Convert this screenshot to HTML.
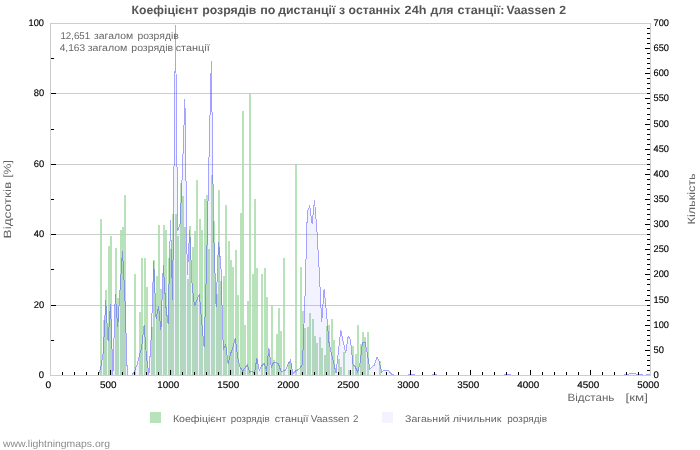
<!DOCTYPE html>
<html><head><meta charset="utf-8"><title>chart</title>
<style>html,body{margin:0;padding:0;background:#fff}svg{display:block;will-change:transform}text{text-rendering:geometricPrecision;font-family:"Liberation Sans",sans-serif}</style></head><body>
<svg width="700" height="450" viewBox="0 0 700 450">
<rect x="0" y="0" width="700" height="450" fill="#fff"/>
<g shape-rendering="crispEdges">
<rect x="51" y="305" width="599" height="1" fill="#cdcdcd"/>
<rect x="51" y="234" width="599" height="1" fill="#cdcdcd"/>
<rect x="51" y="164" width="599" height="1" fill="#cdcdcd"/>
<rect x="51" y="93" width="599" height="1" fill="#cdcdcd"/>
</g>
<g shape-rendering="crispEdges" fill="rgba(166,219,169,0.8)">
<rect x="100" y="219" width="2" height="156"/>
<rect x="103" y="320" width="2" height="55"/>
<rect x="105" y="290" width="2" height="85"/>
<rect x="108" y="246" width="2" height="129"/>
<rect x="110" y="236" width="2" height="139"/>
<rect x="115" y="248" width="2" height="127"/>
<rect x="117" y="298" width="2" height="77"/>
<rect x="120" y="230" width="2" height="145"/>
<rect x="122" y="227" width="2" height="148"/>
<rect x="124" y="195" width="2" height="180"/>
<rect x="134" y="274" width="2" height="101"/>
<rect x="139" y="312" width="2" height="63"/>
<rect x="141" y="258" width="2" height="117"/>
<rect x="144" y="258" width="2" height="117"/>
<rect x="146" y="287" width="2" height="88"/>
<rect x="151" y="327" width="2" height="48"/>
<rect x="153" y="260" width="2" height="115"/>
<rect x="156" y="276" width="2" height="99"/>
<rect x="158" y="225" width="2" height="150"/>
<rect x="160" y="289" width="2" height="86"/>
<rect x="163" y="225" width="2" height="150"/>
<rect x="165" y="230" width="2" height="145"/>
<rect x="168" y="258" width="2" height="117"/>
<rect x="170" y="249" width="2" height="126"/>
<rect x="172" y="214" width="2" height="161"/>
<rect x="175" y="214" width="2" height="161"/>
<rect x="177" y="236" width="2" height="139"/>
<rect x="180" y="183" width="2" height="192"/>
<rect x="182" y="196" width="2" height="179"/>
<rect x="184" y="227" width="2" height="148"/>
<rect x="187" y="279" width="2" height="96"/>
<rect x="189" y="226" width="2" height="149"/>
<rect x="192" y="247" width="2" height="128"/>
<rect x="194" y="231" width="2" height="144"/>
<rect x="196" y="180" width="2" height="195"/>
<rect x="199" y="219" width="2" height="156"/>
<rect x="201" y="230" width="2" height="145"/>
<rect x="204" y="199" width="2" height="176"/>
<rect x="206" y="195" width="2" height="180"/>
<rect x="208" y="249" width="2" height="126"/>
<rect x="211" y="175" width="2" height="200"/>
<rect x="213" y="221" width="2" height="154"/>
<rect x="216" y="294" width="2" height="81"/>
<rect x="218" y="190" width="2" height="185"/>
<rect x="220" y="281" width="2" height="94"/>
<rect x="223" y="276" width="2" height="99"/>
<rect x="225" y="205" width="2" height="170"/>
<rect x="228" y="241" width="2" height="134"/>
<rect x="230" y="260" width="2" height="115"/>
<rect x="232" y="267" width="2" height="108"/>
<rect x="235" y="250" width="2" height="125"/>
<rect x="237" y="295" width="2" height="80"/>
<rect x="240" y="213" width="2" height="162"/>
<rect x="242" y="111" width="2" height="264"/>
<rect x="244" y="325" width="2" height="50"/>
<rect x="247" y="301" width="2" height="74"/>
<rect x="249" y="93" width="2" height="282"/>
<rect x="252" y="274" width="2" height="101"/>
<rect x="254" y="199" width="2" height="176"/>
<rect x="256" y="268" width="2" height="107"/>
<rect x="261" y="274" width="2" height="101"/>
<rect x="264" y="268" width="2" height="107"/>
<rect x="266" y="297" width="2" height="78"/>
<rect x="268" y="354" width="2" height="21"/>
<rect x="271" y="305" width="2" height="70"/>
<rect x="273" y="360" width="2" height="15"/>
<rect x="276" y="334" width="2" height="41"/>
<rect x="278" y="308" width="2" height="67"/>
<rect x="280" y="331" width="2" height="44"/>
<rect x="283" y="258" width="2" height="117"/>
<rect x="288" y="362" width="2" height="13"/>
<rect x="290" y="363" width="2" height="12"/>
<rect x="295" y="164" width="2" height="211"/>
<rect x="300" y="267" width="2" height="108"/>
<rect x="302" y="311" width="2" height="64"/>
<rect x="304" y="328" width="2" height="47"/>
<rect x="307" y="327" width="2" height="48"/>
<rect x="309" y="313" width="2" height="62"/>
<rect x="312" y="319" width="2" height="56"/>
<rect x="314" y="336" width="2" height="39"/>
<rect x="316" y="343" width="2" height="32"/>
<rect x="319" y="337" width="2" height="38"/>
<rect x="321" y="348" width="2" height="27"/>
<rect x="324" y="355" width="2" height="20"/>
<rect x="326" y="326" width="2" height="49"/>
<rect x="328" y="325" width="2" height="50"/>
<rect x="331" y="319" width="2" height="56"/>
<rect x="333" y="340" width="2" height="35"/>
<rect x="338" y="359" width="2" height="16"/>
<rect x="340" y="367" width="2" height="8"/>
<rect x="343" y="352" width="2" height="23"/>
<rect x="348" y="370" width="2" height="5"/>
<rect x="352" y="346" width="2" height="29"/>
<rect x="355" y="354" width="2" height="21"/>
<rect x="357" y="325" width="2" height="50"/>
<rect x="360" y="344" width="2" height="31"/>
<rect x="362" y="332" width="2" height="43"/>
<rect x="364" y="337" width="2" height="38"/>
<rect x="367" y="332" width="2" height="43"/>
<rect x="379" y="361" width="2" height="14"/>
</g>
<text x="60.4" y="39" font-size="9.8" fill="#666" text-anchor="start" font-weight="normal" textLength="29.7" lengthAdjust="spacingAndGlyphs">12,651</text>
<text x="94.0" y="39" font-size="9.8" fill="#666" text-anchor="start" font-weight="normal" textLength="39.1" lengthAdjust="spacingAndGlyphs">загалом</text>
<text x="137.4" y="39" font-size="9.8" fill="#666" text-anchor="start" font-weight="normal" textLength="41.4" lengthAdjust="spacingAndGlyphs">розрядів</text>
<text x="59.7" y="51" font-size="9.8" fill="#666" text-anchor="start" font-weight="normal" textLength="25.4" lengthAdjust="spacingAndGlyphs">4,163</text>
<text x="87.7" y="51" font-size="9.8" fill="#666" text-anchor="start" font-weight="normal" textLength="39.7" lengthAdjust="spacingAndGlyphs">загалом</text>
<text x="131.3" y="51" font-size="9.8" fill="#666" text-anchor="start" font-weight="normal" textLength="41.8" lengthAdjust="spacingAndGlyphs">розрядів</text>
<text x="175.7" y="51" font-size="9.8" fill="#666" text-anchor="start" font-weight="normal" textLength="34.0" lengthAdjust="spacingAndGlyphs">станції</text>
<path d="M98.5,375.0 L100.9,367.0 L103.3,352.0 L105.7,300.0 L108.1,341.0 L110.5,304.0 L112.9,375.0 L115.3,294.0 L117.7,327.0 L120.1,289.0 L122.5,251.0 L124.9,297.0 L127.3,375.0 L127.3,375 L98.5,375 Z" fill="rgba(100,100,255,0.075)" stroke="none"/>
<path d="M132.1,375.0 L134.5,371.0 L136.9,365.0 L139.3,356.0 L141.7,347.0 L144.1,325.0 L146.5,357.0 L148.9,375.0 L151.3,335.0 L153.7,261.0 L156.1,319.0 L158.5,306.0 L160.9,330.0 L163.3,265.0 L165.7,305.0 L168.1,324.0 L170.5,220.0 L172.6,300.0 L175.5,25.0 L177.7,231.0 L180.1,224.0 L182.5,169.0 L184.9,99.0 L187.3,275.0 L189.7,230.0 L192.1,285.0 L194.5,306.0 L196.9,300.0 L199.3,294.0 L201.7,322.0 L204.1,347.0 L206.5,268.0 L208.9,162.0 L211.3,61.0 L213.7,233.0 L216.1,307.0 L218.5,242.0 L220.9,265.0 L223.3,350.0 L225.7,344.0 L228.1,364.0 L230.5,354.0 L232.9,347.0 L235.3,338.0 L237.7,358.0 L240.1,367.0 L242.5,371.0 L244.9,368.0 L247.3,365.0 L249.7,372.0 L252.1,371.0 L254.5,373.0 L256.9,358.0 L259.3,370.0 L261.7,366.0 L264.1,363.0 L266.5,371.0 L268.9,348.0 L271.3,367.0 L273.7,362.0 L276.1,362.0 L278.5,364.0 L280.9,371.0 L283.3,371.0 L285.7,370.0 L288.1,364.0 L290.5,360.0 L292.9,374.0 L295.3,371.0 L297.7,370.0 L300.1,368.0 L302.5,364.0 L304.9,300.0 L307.3,212.0 L309.7,206.0 L312.1,224.0 L314.5,200.0 L316.9,230.0 L319.3,272.0 L321.7,322.0 L324.1,289.0 L326.5,313.0 L328.9,342.0 L331.3,353.0 L333.7,363.0 L336.1,373.0 L338.5,350.0 L340.9,330.0 L343.3,342.0 L345.7,353.0 L348.1,336.0 L350.5,340.0 L352.9,364.0 L355.3,367.0 L357.7,372.0 L360.1,363.0 L362.5,342.0 L364.9,342.0 L367.3,353.0 L369.7,369.0 L372.1,367.0 L374.5,365.0 L376.9,357.0 L379.3,362.0 L381.7,372.0 L384.1,370.0 L386.5,370.0 L388.9,371.0 L391.3,374.0 L393.7,375.0 L393.7,375 L132.1,375 Z" fill="rgba(100,100,255,0.075)" stroke="none"/>
<path d="M408.1,375.0 L410.5,374.5 L412.9,374.0 L415.3,375.0 L415.3,375 L408.1,375 Z" fill="rgba(100,100,255,0.075)" stroke="none"/>
<path d="M432.1,375.0 L434.5,374.0 L436.9,375.0 L436.9,375 L432.1,375 Z" fill="rgba(100,100,255,0.075)" stroke="none"/>
<path d="M504.1,375.0 L506.5,374.5 L508.9,374.0 L511.3,375.0 L511.3,375 L504.1,375 Z" fill="rgba(100,100,255,0.075)" stroke="none"/>
<path d="M624.1,375.0 L626.5,374.5 L628.9,374.0 L631.3,373.5 L633.7,373.0 L636.1,374.0 L638.5,375.0 L640.9,374.0 L643.3,375.0 L645.7,375.0 L648.1,374.5 L650.5,374.5 L650.5,375 L624.1,375 Z" fill="rgba(100,100,255,0.075)" stroke="none"/>
<path d="M98.5,375.0 L100.9,367.0 L103.3,352.0 L105.7,300.0 L108.1,341.0 L110.5,304.0 L112.9,375.0 L115.3,294.0 L117.7,327.0 L120.1,289.0 L122.5,251.0 L124.9,297.0 L127.3,375.0" fill="none" stroke="rgba(80,80,255,0.5)" stroke-width="1" stroke-linejoin="miter" shape-rendering="crispEdges"/>
<path d="M132.1,375.0 L134.5,371.0 L136.9,365.0 L139.3,356.0 L141.7,347.0 L144.1,325.0 L146.5,357.0 L148.9,375.0 L151.3,335.0 L153.7,261.0 L156.1,319.0 L158.5,306.0 L160.9,330.0 L163.3,265.0 L165.7,305.0 L168.1,324.0 L170.5,220.0 L172.6,300.0 L175.5,25.0 L177.7,231.0 L180.1,224.0 L182.5,169.0 L184.9,99.0 L187.3,275.0 L189.7,230.0 L192.1,285.0 L194.5,306.0 L196.9,300.0 L199.3,294.0 L201.7,322.0 L204.1,347.0 L206.5,268.0 L208.9,162.0 L211.3,61.0 L213.7,233.0 L216.1,307.0 L218.5,242.0 L220.9,265.0 L223.3,350.0 L225.7,344.0 L228.1,364.0 L230.5,354.0 L232.9,347.0 L235.3,338.0 L237.7,358.0 L240.1,367.0 L242.5,371.0 L244.9,368.0 L247.3,365.0 L249.7,372.0 L252.1,371.0 L254.5,373.0 L256.9,358.0 L259.3,370.0 L261.7,366.0 L264.1,363.0 L266.5,371.0 L268.9,348.0 L271.3,367.0 L273.7,362.0 L276.1,362.0 L278.5,364.0 L280.9,371.0 L283.3,371.0 L285.7,370.0 L288.1,364.0 L290.5,360.0 L292.9,374.0 L295.3,371.0 L297.7,370.0 L300.1,368.0 L302.5,364.0 L304.9,300.0 L307.3,212.0 L309.7,206.0 L312.1,224.0 L314.5,200.0 L316.9,230.0 L319.3,272.0 L321.7,322.0 L324.1,289.0 L326.5,313.0 L328.9,342.0 L331.3,353.0 L333.7,363.0 L336.1,373.0 L338.5,350.0 L340.9,330.0 L343.3,342.0 L345.7,353.0 L348.1,336.0 L350.5,340.0 L352.9,364.0 L355.3,367.0 L357.7,372.0 L360.1,363.0 L362.5,342.0 L364.9,342.0 L367.3,353.0 L369.7,369.0 L372.1,367.0 L374.5,365.0 L376.9,357.0 L379.3,362.0 L381.7,372.0 L384.1,370.0 L386.5,370.0 L388.9,371.0 L391.3,374.0 L393.7,375.0" fill="none" stroke="rgba(80,80,255,0.5)" stroke-width="1" stroke-linejoin="miter" shape-rendering="crispEdges"/>
<path d="M408.1,375.0 L410.5,374.5 L412.9,374.0 L415.3,375.0" fill="none" stroke="rgba(80,80,255,0.5)" stroke-width="1" stroke-linejoin="miter" shape-rendering="crispEdges"/>
<path d="M432.1,375.0 L434.5,374.0 L436.9,375.0" fill="none" stroke="rgba(80,80,255,0.5)" stroke-width="1" stroke-linejoin="miter" shape-rendering="crispEdges"/>
<path d="M504.1,375.0 L506.5,374.5 L508.9,374.0 L511.3,375.0" fill="none" stroke="rgba(80,80,255,0.5)" stroke-width="1" stroke-linejoin="miter" shape-rendering="crispEdges"/>
<path d="M624.1,375.0 L626.5,374.5 L628.9,374.0 L631.3,373.5 L633.7,373.0 L636.1,374.0 L638.5,375.0 L640.9,374.0 L643.3,375.0 L645.7,375.0 L648.1,374.5 L650.5,374.5" fill="none" stroke="rgba(80,80,255,0.5)" stroke-width="1" stroke-linejoin="miter" shape-rendering="crispEdges"/>
<g shape-rendering="crispEdges">
<rect x="50" y="23" width="601" height="1" fill="#cdcdcd"/>
<rect x="50" y="375" width="601" height="1" fill="#cdcdcd"/>
<rect x="50" y="23" width="1" height="353" fill="#cdcdcd"/>
<rect x="650" y="23" width="1" height="353" fill="#cdcdcd"/>
<g fill="#000">
<rect x="51" y="340" width="3" height="1"/>
<rect x="51" y="305" width="5" height="1"/>
<rect x="51" y="269" width="3" height="1"/>
<rect x="51" y="234" width="5" height="1"/>
<rect x="51" y="199" width="3" height="1"/>
<rect x="51" y="164" width="5" height="1"/>
<rect x="51" y="129" width="3" height="1"/>
<rect x="51" y="93" width="5" height="1"/>
<rect x="51" y="58" width="3" height="1"/>
<rect x="62" y="372" width="1" height="3"/>
<rect x="74" y="372" width="1" height="3"/>
<rect x="86" y="372" width="1" height="3"/>
<rect x="98" y="372" width="1" height="3"/>
<rect x="110" y="370" width="1" height="5"/>
<rect x="122" y="372" width="1" height="3"/>
<rect x="134" y="372" width="1" height="3"/>
<rect x="146" y="372" width="1" height="3"/>
<rect x="158" y="372" width="1" height="3"/>
<rect x="170" y="370" width="1" height="5"/>
<rect x="182" y="372" width="1" height="3"/>
<rect x="194" y="372" width="1" height="3"/>
<rect x="206" y="372" width="1" height="3"/>
<rect x="218" y="372" width="1" height="3"/>
<rect x="230" y="370" width="1" height="5"/>
<rect x="242" y="372" width="1" height="3"/>
<rect x="254" y="372" width="1" height="3"/>
<rect x="266" y="372" width="1" height="3"/>
<rect x="278" y="372" width="1" height="3"/>
<rect x="290" y="370" width="1" height="5"/>
<rect x="302" y="372" width="1" height="3"/>
<rect x="314" y="372" width="1" height="3"/>
<rect x="326" y="372" width="1" height="3"/>
<rect x="338" y="372" width="1" height="3"/>
<rect x="350" y="370" width="1" height="5"/>
<rect x="362" y="372" width="1" height="3"/>
<rect x="374" y="372" width="1" height="3"/>
<rect x="386" y="372" width="1" height="3"/>
<rect x="398" y="372" width="1" height="3"/>
<rect x="410" y="370" width="1" height="5"/>
<rect x="422" y="372" width="1" height="3"/>
<rect x="434" y="372" width="1" height="3"/>
<rect x="446" y="372" width="1" height="3"/>
<rect x="458" y="372" width="1" height="3"/>
<rect x="470" y="370" width="1" height="5"/>
<rect x="482" y="372" width="1" height="3"/>
<rect x="494" y="372" width="1" height="3"/>
<rect x="506" y="372" width="1" height="3"/>
<rect x="518" y="372" width="1" height="3"/>
<rect x="530" y="370" width="1" height="5"/>
<rect x="542" y="372" width="1" height="3"/>
<rect x="554" y="372" width="1" height="3"/>
<rect x="566" y="372" width="1" height="3"/>
<rect x="578" y="372" width="1" height="3"/>
<rect x="590" y="370" width="1" height="5"/>
<rect x="602" y="372" width="1" height="3"/>
<rect x="614" y="372" width="1" height="3"/>
<rect x="626" y="372" width="1" height="3"/>
<rect x="638" y="372" width="1" height="3"/>
<rect x="647" y="370" width="3" height="1"/>
<rect x="647" y="365" width="3" height="1"/>
<rect x="647" y="360" width="3" height="1"/>
<rect x="647" y="355" width="3" height="1"/>
<rect x="645" y="350" width="5" height="1"/>
<rect x="647" y="345" width="3" height="1"/>
<rect x="647" y="340" width="3" height="1"/>
<rect x="647" y="335" width="3" height="1"/>
<rect x="647" y="330" width="3" height="1"/>
<rect x="645" y="325" width="5" height="1"/>
<rect x="647" y="320" width="3" height="1"/>
<rect x="647" y="315" width="3" height="1"/>
<rect x="647" y="310" width="3" height="1"/>
<rect x="647" y="305" width="3" height="1"/>
<rect x="645" y="300" width="5" height="1"/>
<rect x="647" y="295" width="3" height="1"/>
<rect x="647" y="290" width="3" height="1"/>
<rect x="647" y="284" width="3" height="1"/>
<rect x="647" y="279" width="3" height="1"/>
<rect x="645" y="274" width="5" height="1"/>
<rect x="647" y="269" width="3" height="1"/>
<rect x="647" y="264" width="3" height="1"/>
<rect x="647" y="259" width="3" height="1"/>
<rect x="647" y="254" width="3" height="1"/>
<rect x="645" y="249" width="5" height="1"/>
<rect x="647" y="244" width="3" height="1"/>
<rect x="647" y="239" width="3" height="1"/>
<rect x="647" y="234" width="3" height="1"/>
<rect x="647" y="229" width="3" height="1"/>
<rect x="645" y="224" width="5" height="1"/>
<rect x="647" y="219" width="3" height="1"/>
<rect x="647" y="214" width="3" height="1"/>
<rect x="647" y="209" width="3" height="1"/>
<rect x="647" y="204" width="3" height="1"/>
<rect x="645" y="199" width="5" height="1"/>
<rect x="647" y="194" width="3" height="1"/>
<rect x="647" y="189" width="3" height="1"/>
<rect x="647" y="184" width="3" height="1"/>
<rect x="647" y="179" width="3" height="1"/>
<rect x="645" y="174" width="5" height="1"/>
<rect x="647" y="169" width="3" height="1"/>
<rect x="647" y="164" width="3" height="1"/>
<rect x="647" y="159" width="3" height="1"/>
<rect x="647" y="154" width="3" height="1"/>
<rect x="645" y="149" width="5" height="1"/>
<rect x="647" y="144" width="3" height="1"/>
<rect x="647" y="139" width="3" height="1"/>
<rect x="647" y="134" width="3" height="1"/>
<rect x="647" y="129" width="3" height="1"/>
<rect x="645" y="124" width="5" height="1"/>
<rect x="647" y="119" width="3" height="1"/>
<rect x="647" y="114" width="3" height="1"/>
<rect x="647" y="108" width="3" height="1"/>
<rect x="647" y="103" width="3" height="1"/>
<rect x="645" y="98" width="5" height="1"/>
<rect x="647" y="93" width="3" height="1"/>
<rect x="647" y="88" width="3" height="1"/>
<rect x="647" y="83" width="3" height="1"/>
<rect x="647" y="78" width="3" height="1"/>
<rect x="645" y="73" width="5" height="1"/>
<rect x="647" y="68" width="3" height="1"/>
<rect x="647" y="63" width="3" height="1"/>
<rect x="647" y="58" width="3" height="1"/>
<rect x="647" y="53" width="3" height="1"/>
<rect x="645" y="48" width="5" height="1"/>
<rect x="647" y="43" width="3" height="1"/>
<rect x="647" y="38" width="3" height="1"/>
<rect x="647" y="33" width="3" height="1"/>
<rect x="647" y="28" width="3" height="1"/>
</g></g>
<text x="38.8" y="378" font-size="9.6" fill="#000" text-anchor="start" font-weight="normal" textLength="5.3" lengthAdjust="spacingAndGlyphs" stroke="#000" stroke-width="0.15">0</text>
<text x="33.7" y="308" font-size="9.6" fill="#000" text-anchor="start" font-weight="normal" textLength="10.4" lengthAdjust="spacingAndGlyphs" stroke="#000" stroke-width="0.15">20</text>
<text x="33.7" y="237" font-size="9.6" fill="#000" text-anchor="start" font-weight="normal" textLength="10.4" lengthAdjust="spacingAndGlyphs" stroke="#000" stroke-width="0.15">40</text>
<text x="33.7" y="167" font-size="9.6" fill="#000" text-anchor="start" font-weight="normal" textLength="10.4" lengthAdjust="spacingAndGlyphs" stroke="#000" stroke-width="0.15">60</text>
<text x="33.7" y="96" font-size="9.6" fill="#000" text-anchor="start" font-weight="normal" textLength="10.4" lengthAdjust="spacingAndGlyphs" stroke="#000" stroke-width="0.15">80</text>
<text x="28.6" y="26" font-size="9.6" fill="#000" text-anchor="start" font-weight="normal" textLength="15.4" lengthAdjust="spacingAndGlyphs" stroke="#000" stroke-width="0.15">100</text>
<text x="653.5" y="378" font-size="9.6" fill="#000" text-anchor="start" font-weight="normal" textLength="5.3" lengthAdjust="spacingAndGlyphs" stroke="#000" stroke-width="0.15">0</text>
<text x="653.5" y="353" font-size="9.6" fill="#000" text-anchor="start" font-weight="normal" textLength="10.4" lengthAdjust="spacingAndGlyphs" stroke="#000" stroke-width="0.15">50</text>
<text x="653.5" y="328" font-size="9.6" fill="#000" text-anchor="start" font-weight="normal" textLength="15.4" lengthAdjust="spacingAndGlyphs" stroke="#000" stroke-width="0.15">100</text>
<text x="653.5" y="303" font-size="9.6" fill="#000" text-anchor="start" font-weight="normal" textLength="15.4" lengthAdjust="spacingAndGlyphs" stroke="#000" stroke-width="0.15">150</text>
<text x="653.5" y="277" font-size="9.6" fill="#000" text-anchor="start" font-weight="normal" textLength="15.4" lengthAdjust="spacingAndGlyphs" stroke="#000" stroke-width="0.15">200</text>
<text x="653.5" y="252" font-size="9.6" fill="#000" text-anchor="start" font-weight="normal" textLength="15.4" lengthAdjust="spacingAndGlyphs" stroke="#000" stroke-width="0.15">250</text>
<text x="653.5" y="227" font-size="9.6" fill="#000" text-anchor="start" font-weight="normal" textLength="15.4" lengthAdjust="spacingAndGlyphs" stroke="#000" stroke-width="0.15">300</text>
<text x="653.5" y="202" font-size="9.6" fill="#000" text-anchor="start" font-weight="normal" textLength="15.4" lengthAdjust="spacingAndGlyphs" stroke="#000" stroke-width="0.15">350</text>
<text x="653.5" y="177" font-size="9.6" fill="#000" text-anchor="start" font-weight="normal" textLength="15.4" lengthAdjust="spacingAndGlyphs" stroke="#000" stroke-width="0.15">400</text>
<text x="653.5" y="152" font-size="9.6" fill="#000" text-anchor="start" font-weight="normal" textLength="15.4" lengthAdjust="spacingAndGlyphs" stroke="#000" stroke-width="0.15">450</text>
<text x="653.5" y="127" font-size="9.6" fill="#000" text-anchor="start" font-weight="normal" textLength="15.4" lengthAdjust="spacingAndGlyphs" stroke="#000" stroke-width="0.15">500</text>
<text x="653.5" y="101" font-size="9.6" fill="#000" text-anchor="start" font-weight="normal" textLength="15.4" lengthAdjust="spacingAndGlyphs" stroke="#000" stroke-width="0.15">550</text>
<text x="653.5" y="76" font-size="9.6" fill="#000" text-anchor="start" font-weight="normal" textLength="15.4" lengthAdjust="spacingAndGlyphs" stroke="#000" stroke-width="0.15">600</text>
<text x="653.5" y="51" font-size="9.6" fill="#000" text-anchor="start" font-weight="normal" textLength="15.4" lengthAdjust="spacingAndGlyphs" stroke="#000" stroke-width="0.15">650</text>
<text x="653.5" y="26" font-size="9.6" fill="#000" text-anchor="start" font-weight="normal" textLength="15.4" lengthAdjust="spacingAndGlyphs" stroke="#000" stroke-width="0.15">700</text>
<text x="45.4" y="387.8" font-size="9.6" fill="#000" text-anchor="start" font-weight="normal" textLength="5.7" lengthAdjust="spacingAndGlyphs" stroke="#000" stroke-width="0.15">0</text>
<text x="100.0" y="387.8" font-size="9.6" fill="#000" text-anchor="start" font-weight="normal" textLength="16.5" lengthAdjust="spacingAndGlyphs" stroke="#000" stroke-width="0.15">500</text>
<text x="157.3" y="387.8" font-size="9.6" fill="#000" text-anchor="start" font-weight="normal" textLength="21.9" lengthAdjust="spacingAndGlyphs" stroke="#000" stroke-width="0.15">1000</text>
<text x="217.3" y="387.8" font-size="9.6" fill="#000" text-anchor="start" font-weight="normal" textLength="21.9" lengthAdjust="spacingAndGlyphs" stroke="#000" stroke-width="0.15">1500</text>
<text x="277.3" y="387.8" font-size="9.6" fill="#000" text-anchor="start" font-weight="normal" textLength="21.9" lengthAdjust="spacingAndGlyphs" stroke="#000" stroke-width="0.15">2000</text>
<text x="337.3" y="387.8" font-size="9.6" fill="#000" text-anchor="start" font-weight="normal" textLength="21.9" lengthAdjust="spacingAndGlyphs" stroke="#000" stroke-width="0.15">2500</text>
<text x="397.3" y="387.8" font-size="9.6" fill="#000" text-anchor="start" font-weight="normal" textLength="21.9" lengthAdjust="spacingAndGlyphs" stroke="#000" stroke-width="0.15">3000</text>
<text x="457.3" y="387.8" font-size="9.6" fill="#000" text-anchor="start" font-weight="normal" textLength="21.9" lengthAdjust="spacingAndGlyphs" stroke="#000" stroke-width="0.15">3500</text>
<text x="517.3" y="387.8" font-size="9.6" fill="#000" text-anchor="start" font-weight="normal" textLength="21.9" lengthAdjust="spacingAndGlyphs" stroke="#000" stroke-width="0.15">4000</text>
<text x="577.3" y="387.8" font-size="9.6" fill="#000" text-anchor="start" font-weight="normal" textLength="21.9" lengthAdjust="spacingAndGlyphs" stroke="#000" stroke-width="0.15">4500</text>
<text x="637.3" y="387.8" font-size="9.6" fill="#000" text-anchor="start" font-weight="normal" textLength="21.9" lengthAdjust="spacingAndGlyphs" stroke="#000" stroke-width="0.15">5000</text>
<text x="131.6" y="14" font-size="12" fill="#555" text-anchor="start" font-weight="bold" textLength="66.8" lengthAdjust="spacingAndGlyphs">Коефіцієнт</text>
<text x="202.2" y="14" font-size="12" fill="#555" text-anchor="start" font-weight="bold" textLength="54.2" lengthAdjust="spacingAndGlyphs">розрядів</text>
<text x="260.2" y="14" font-size="12" fill="#555" text-anchor="start" font-weight="bold" textLength="15.2" lengthAdjust="spacingAndGlyphs">по</text>
<text x="278.2" y="14" font-size="12" fill="#555" text-anchor="start" font-weight="bold" textLength="57.2" lengthAdjust="spacingAndGlyphs">дистанції</text>
<text x="339.1" y="14" font-size="12" fill="#555" text-anchor="start" font-weight="bold" textLength="6.1" lengthAdjust="spacingAndGlyphs">з</text>
<text x="348.6" y="14" font-size="12" fill="#555" text-anchor="start" font-weight="bold" textLength="51.8" lengthAdjust="spacingAndGlyphs">останніх</text>
<text x="404.6" y="14" font-size="12" fill="#555" text-anchor="start" font-weight="bold" textLength="21.8" lengthAdjust="spacingAndGlyphs">24h</text>
<text x="430.6" y="14" font-size="12" fill="#555" text-anchor="start" font-weight="bold" textLength="22.8" lengthAdjust="spacingAndGlyphs">для</text>
<text x="457.6" y="14" font-size="12" fill="#555" text-anchor="start" font-weight="bold" textLength="46.8" lengthAdjust="spacingAndGlyphs">станції:</text>
<text x="506.6" y="14" font-size="12" fill="#555" text-anchor="start" font-weight="bold" textLength="48.8" lengthAdjust="spacingAndGlyphs">Vaassen</text>
<text x="559.2" y="14" font-size="12" fill="#555" text-anchor="start" font-weight="bold" textLength="6.8" lengthAdjust="spacingAndGlyphs">2</text>
<text x="567.4" y="400.6" font-size="10.5" fill="#666" text-anchor="start" font-weight="normal" textLength="47.0" lengthAdjust="spacingAndGlyphs">Відстань</text>
<text x="625.6" y="400.6" font-size="10.5" fill="#666" text-anchor="start" font-weight="normal" textLength="22.4" lengthAdjust="spacingAndGlyphs">[км]</text>
<g transform="translate(10.8,238.4) rotate(-90)">
<text x="0" y="0" font-size="10.5" fill="#666" text-anchor="start" font-weight="normal" textLength="56.6" lengthAdjust="spacingAndGlyphs">Відсотків</text>
<text x="60.6" y="0" font-size="10.5" fill="#666" text-anchor="start" font-weight="normal" textLength="17.8" lengthAdjust="spacingAndGlyphs">[%]</text>
</g>
<g transform="translate(695,224.4) rotate(-90)">
<text x="0" y="0" font-size="10.5" fill="#666" text-anchor="start" font-weight="normal" textLength="51.1" lengthAdjust="spacingAndGlyphs">Кількість</text>
</g>
<rect x="150" y="412" width="11" height="11" fill="rgb(184,227,186)" shape-rendering="crispEdges"/>
<rect x="382" y="412" width="11" height="11" fill="rgb(243,243,255)" shape-rendering="crispEdges"/>
<text x="172.9" y="422" font-size="9.7" fill="#666" text-anchor="start" font-weight="normal" textLength="53.6" lengthAdjust="spacingAndGlyphs">Коефіцієнт</text>
<text x="230.7" y="422" font-size="9.7" fill="#666" text-anchor="start" font-weight="normal" textLength="39.0" lengthAdjust="spacingAndGlyphs">розрядів</text>
<text x="274.7" y="422" font-size="9.7" fill="#666" text-anchor="start" font-weight="normal" textLength="33.8" lengthAdjust="spacingAndGlyphs">станції</text>
<text x="310.7" y="422" font-size="9.7" fill="#666" text-anchor="start" font-weight="normal" textLength="38.6" lengthAdjust="spacingAndGlyphs">Vaassen</text>
<text x="353.1" y="422" font-size="9.7" fill="#666" text-anchor="start" font-weight="normal" textLength="5.4" lengthAdjust="spacingAndGlyphs">2</text>
<text x="405.1" y="422" font-size="9.7" fill="#666" text-anchor="start" font-weight="normal" textLength="44.9" lengthAdjust="spacingAndGlyphs">Загаьний</text>
<text x="452.7" y="422" font-size="9.7" fill="#666" text-anchor="start" font-weight="normal" textLength="48.8" lengthAdjust="spacingAndGlyphs">лічильник</text>
<text x="507.3" y="422" font-size="9.7" fill="#666" text-anchor="start" font-weight="normal" textLength="39.8" lengthAdjust="spacingAndGlyphs">розрядів</text>
<text x="3" y="446.8" font-size="10" fill="#8c8c8c" text-anchor="start" font-weight="normal" textLength="107" lengthAdjust="spacingAndGlyphs">www.lightningmaps.org</text>
</svg></body></html>
